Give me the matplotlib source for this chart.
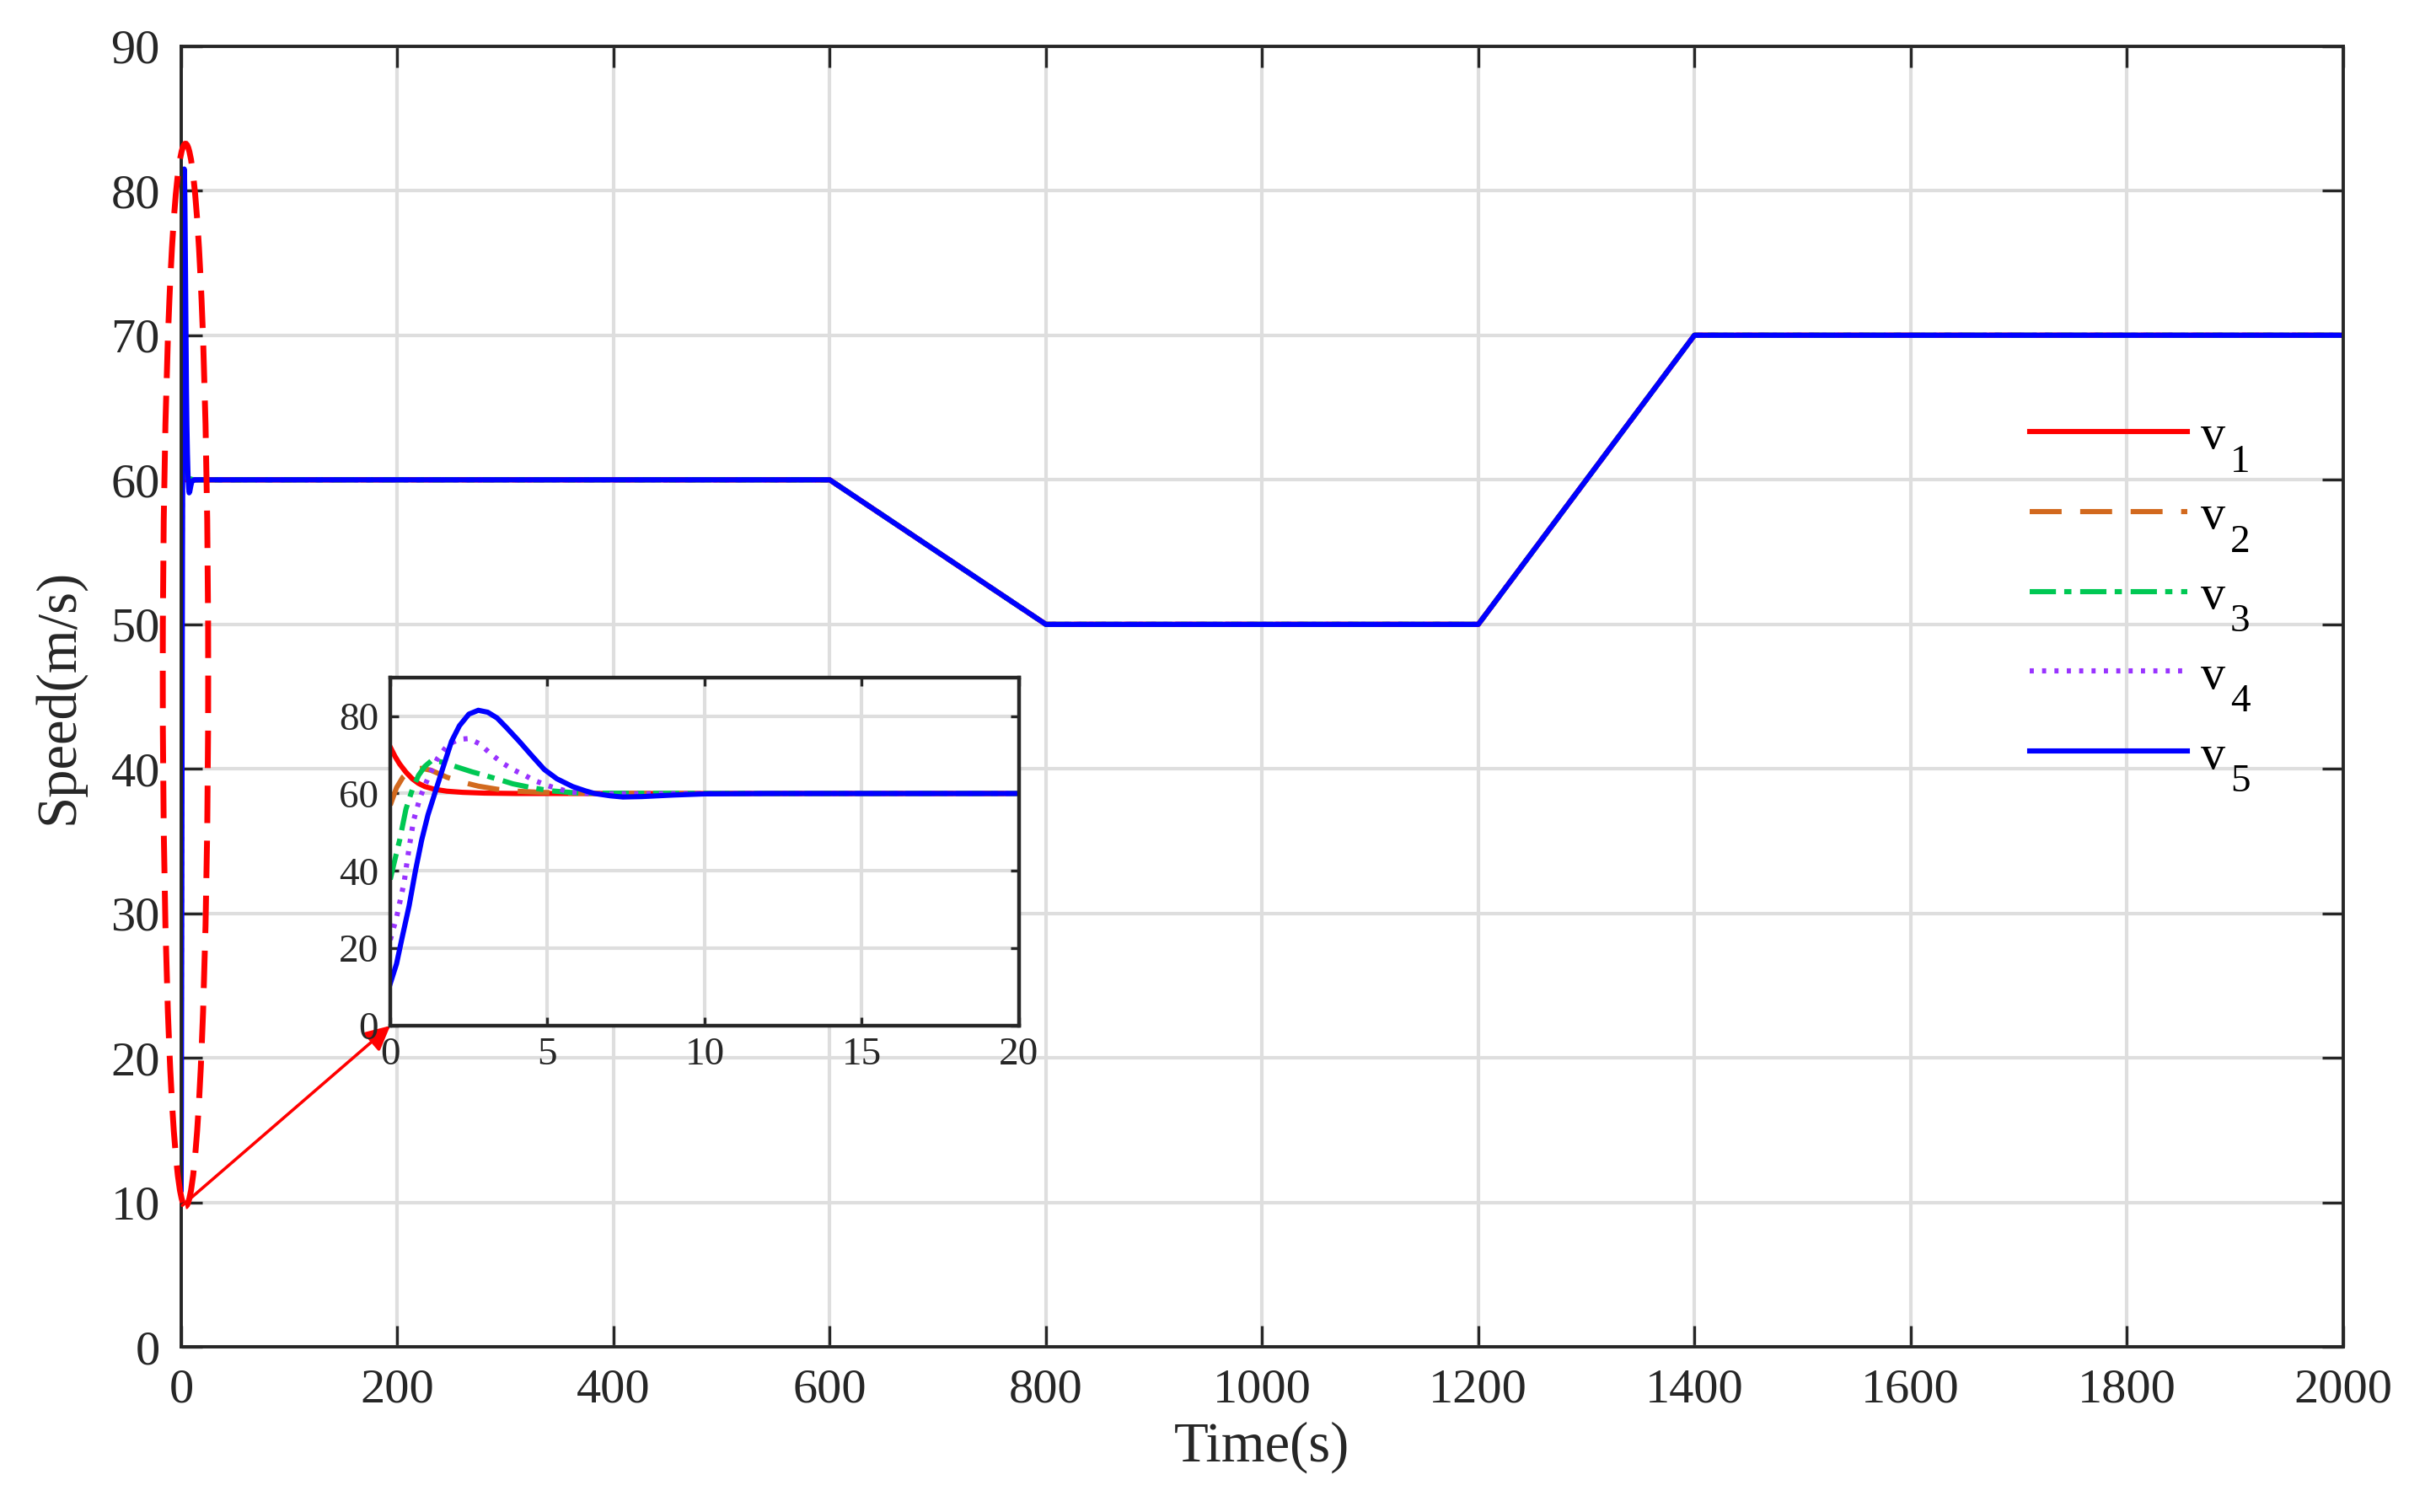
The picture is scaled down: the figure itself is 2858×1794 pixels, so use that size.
import matplotlib
matplotlib.use("Agg")
import matplotlib.pyplot as plt
import numpy as np
from matplotlib.patches import Ellipse

plt.rcParams['font.family'] = ['Liberation Serif', 'DejaVu Serif']

# transient part, t in s, speed in m/s
t1 = [0, 0.15, 0.3, 0.5, 0.7, 0.9, 1.1, 1.4, 1.8, 2.3, 3, 4, 12]
s1 = [72, 69.6, 67.6, 65.5, 63.8, 62.6, 61.8, 61.1, 60.6, 60.3, 60.1, 60, 60]

t2 = [0, 0.2, 0.4, 0.6, 0.8, 1.0, 1.3, 1.8, 2.3, 2.8, 3.4, 4.0, 4.8, 5.6, 12]
s2 = [57, 61.5, 64.2, 65.6, 66.3, 66.5, 66.0, 64.2, 62.9, 61.9, 61.1, 60.6, 60.3, 60.1, 60]

t3 = [0, 0.15, 0.3, 0.5, 0.7, 0.9, 1.1, 1.3, 1.6, 2.1, 2.6, 3.0, 3.5, 3.9, 4.5, 5.1, 6, 12]
s3 = [37.8, 43, 48, 56, 61, 64.7, 67, 68.4, 68.2, 66.9, 65.6, 64.7, 63.5, 62.5, 61.5, 60.7, 60.1, 60]

t4 = [0, 0.2, 0.44, 0.6, 0.74, 0.95, 1.2, 1.5, 1.84, 2.2, 2.5, 2.85, 3.2, 3.6, 3.9, 4.3, 4.6,
      5.1, 5.7, 6.5, 12]
s4 = [22.2, 28, 37, 46, 53, 59, 64, 69, 72.7, 74, 74.2, 72.8, 70.2, 67.7, 66.2, 64.6, 63.3,
      61.8, 60.4, 59.9, 60]

t5 = [0, 0.2, 0.37, 0.6, 0.8, 1.0, 1.2, 1.4, 1.65, 1.95, 2.2, 2.5, 2.8, 3.1, 3.4, 3.7, 4.1,
      4.5, 4.9, 5.3, 5.8, 6.2, 6.5, 7.0, 7.4, 8.0, 9.0, 10, 12]
s5 = [10.9, 16, 22.5, 31, 40, 48, 54.5, 59.6, 66, 73.5, 77.5, 80.5, 81.5, 81, 79.5, 77, 73.5,
      69.8, 66.2, 63.8, 61.8, 60.7, 60, 59.4, 59.1, 59.2, 59.6, 59.9, 60]

# reference speed profile after the transient
tail_t = [600, 800, 1200, 1400, 2000]
tail_s = [60, 50, 50, 70, 70]

names = ['v', 'v', 'v', 'v', 'v']
subs = ['1', '2', '3', '4', '5']
colors = ['#ff0000', '#d2691e', '#00c853', '#9933ff', '#0000ff']
styles = ['-', (0, (6.2, 3.6)), (0, (5.1, 1.6, 1.4, 1.7)), (0, (0.8, 1.6)), '-']

series = [(t1, s1), (t2, s2), (t3, s3), (t4, s4), (t5, s5)]

fig = plt.figure(figsize=(14.29, 8.97), dpi=200)
ax = fig.add_axes([0.0752, 0.109, 0.8974, 0.8605])

lw = 2.2
for (tt, ss), lab, c, ls in zip(series, names, colors, styles):
    ax.plot(tt + tail_t, ss + tail_s, color=c, linestyle=ls, lw=lw, label=lab)

ax.set_xlim(0, 2000)
ax.set_ylim(0, 90)
ax.set_xticks(np.arange(0, 2001, 200))
ax.set_yticks(np.arange(0, 91, 10))
ax.grid(True, color='#dedede', lw=1.5)
ax.set_axisbelow(True)
ax.tick_params(direction='in', length=9, width=1.2, labelsize=21, pad=9,
               top=True, right=True, colors='#262626')
for sp in ax.spines.values():
    sp.set_linewidth(1.4)
    sp.set_color('#262626')
ax.set_xlabel('Time(s)', fontsize=24, labelpad=4, color='#262626')
ax.set_ylabel('Speed(m/s)', fontsize=24, labelpad=11, color='#262626')

# dashed ellipse around the start-up transient
ell = Ellipse((4, 46.5), width=42, height=73.5, fill=False, edgecolor='#ff0000',
              linestyle=(0, (6.4, 3)), lw=2.5, zorder=5, clip_on=False)
ax.add_patch(ell)

leg = ax.legend(loc='upper left', bbox_to_anchor=(0.8426, 0.726), bbox_transform=fig.transFigure,
                frameon=False, fontsize=21, handlelength=3.2, handletextpad=0.28,
                labelspacing=0.72, borderpad=0, borderaxespad=0)
# MATLAB-style subscripts, dropped well below the baseline
for txt, s in zip(leg.get_texts(), subs):
    ax.annotate(s, xy=(1, 0), xycoords=txt, xytext=(2, -5.5), textcoords='offset points',
                fontsize=17, va='baseline', ha='left', color='black', zorder=10)

# inset zoom of the first 20 s
axins = fig.add_axes([0.162, 0.3216, 0.261, 0.2304])
for (tt, ss), c, ls in zip(series, colors, styles):
    axins.plot(tt + [20], ss + [60], color=c, linestyle=ls, lw=lw)
axins.set_xlim(0, 20)
axins.set_ylim(0, 90)
axins.set_xticks([0, 5, 10, 15, 20])
axins.set_yticks([0, 20, 40, 60, 80])
axins.grid(True, color='#dedede', lw=1.5)
axins.set_axisbelow(True)
axins.tick_params(direction='in', length=3.5, width=1.2, labelsize=17, pad=5,
                  top=True, right=True, colors='#262626')
for sp in axins.spines.values():
    sp.set_linewidth(1.6)
    sp.set_color('#262626')

ax.annotate('', xy=(0, 0), xycoords=axins.transData, xytext=(1, 9.8), textcoords=ax.transData,
            arrowprops=dict(arrowstyle='-|>', color='#ff0000', lw=1.3, mutation_scale=22,
                            shrinkA=0, shrinkB=0), zorder=6)

fig.savefig('out.png', dpi=200)
